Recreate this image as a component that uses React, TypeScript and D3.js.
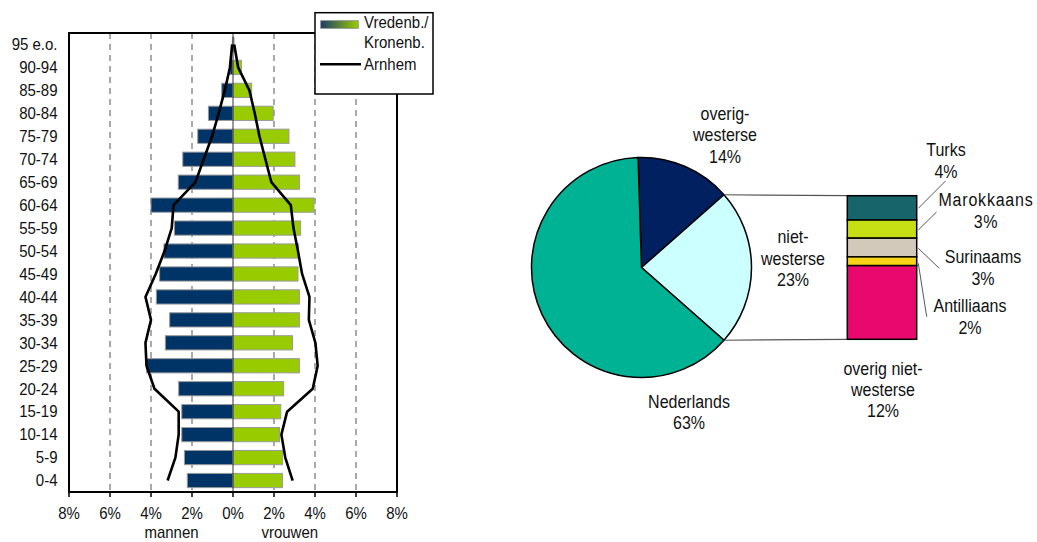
import React from "react";
import * as d3 from "d3";

// ---------- Pyramid data ----------
const ageGroups = ["0-4","5-9","10-14","15-19","20-24","25-29","30-34","35-39","40-44","45-49","50-54","55-59","60-64","65-69","70-74","75-79","80-84","85-89","90-94","95 e.o."];
const menVredenburg = [2.23,2.37,2.5,2.5,2.65,4.21,3.3,3.09,3.74,3.58,3.37,2.86,4.0,2.67,2.45,1.72,1.2,0.55,0.15,0.03];
const womenVredenburg = [2.41,2.41,2.27,2.33,2.47,3.24,2.9,3.24,3.24,3.17,3.2,3.3,3.95,3.24,3.02,2.73,1.96,0.91,0.41,0.05];
const menArnhem = [3.19,2.81,2.65,2.65,3.83,4.22,4.27,4.0,4.27,3.77,3.34,2.99,2.9,1.83,1.43,1.02,0.7,0.4,0.15,0.04];
const womenArnhem = [2.91,2.55,2.36,2.64,3.89,4.13,4.02,3.7,3.73,3.37,3.17,2.95,2.82,1.87,1.58,1.29,1.06,0.8,0.25,0.06];
const xTicks = [-8,-6,-4,-2,0,2,4,6,8];

// ---------- Pie data ----------
const pieNames = ["overig-westerse","niet-westerse","Nederlands"];
const pieValues = [14,23,63];
const pieLabels = [["overig-","westerse","14%"],["niet-","westerse","23%"],["Nederlands","63%"]];
const pieColors = ["#002060","#CCFFFF","#00B294"];

const stackNames = ["Turks","Marokkaans","Surinaams","Antilliaans","overig niet-westerse"];
const stackValues = [3.9,2.9,3.0,1.4,11.8];
const stackLabels = [["Turks","4%"],["Marokkaans","3%"],["Surinaams","3%"],["Antilliaans","2%"],["overig niet-","westerse","12%"]];
const stackColors = ["#17646B","#C6DE14","#D3C9BB","#F7D318","#E8086E"];

// ---------- layout ----------
const P = { left: 69, right: 397, top: 33, bottom: 492 };
const pie = { cx: 641.5, cy: 267.5, r: 110 };
const stackBox = { x0: 847.3, x1: 916.7, y0: 195.7, y1: 339.3 };
const pieLabelPos = [
  { x: 725, y: 119.5 },
  { x: 793, y: 242.7 },
  { x: 689, y: 407.5 },
];
const stackLabelPos = [
  { x: 946, y: 156, ls: 0 },
  { x: 986, y: 206, ls: 0.8 },
  { x: 983, y: 262.7, ls: 0 },
  { x: 970, y: 311.7, ls: 0 },
  { x: 883, y: 374.5, ls: 0 },
];
const leaders = [
  [[918.3, 208.3], [945.5, 181]],
  [[918.3, 230], [936.5, 212]],
  [[918.3, 248.3], [939.3, 268.3]],
  [[918.3, 263.3], [926.7, 316.7]],
];
const LH = 21.8;
const FONT = "'Liberation Sans', Arial, sans-serif";
const STRETCH = 1.13;

function T({ x, y, size, anchor = "start", ls = 0, children }: { x: number; y: number; size: number; anchor?: string; ls?: number; children: React.ReactNode }) {
  return (
    <text
      transform={`translate(${x},${y}) scale(1,${STRETCH})`}
      fontSize={size}
      textAnchor={anchor as any}
      letterSpacing={ls}
      fill="#111"
    >
      {children}
    </text>
  );
}

export default function App() {
  const x = d3.scaleLinear().domain([-8, 8]).range([P.left, P.right]);
  const y = d3
    .scaleBand<string>()
    .domain([...ageGroups].reverse())
    .range([P.top, P.bottom])
    .paddingInner(0.38)
    .paddingOuter(0.19);
  const yc = (a: string) => (y(a) as number) + y.bandwidth() / 2;

  const lineGen = d3
    .line<[number, string]>()
    .x((d) => x(d[0]))
    .y((d) => yc(d[1]));
  const menLine = lineGen(menArnhem.map((v, i) => [-v, ageGroups[i]] as [number, string]));
  const womenLine = lineGen(womenArnhem.map((v, i) => [v, ageGroups[i]] as [number, string]));

  // pie
  const total = d3.sum(pieValues);
  const start = Math.PI / 2 - ((pieValues[0] + pieValues[1] / 2) / total) * 2 * Math.PI;
  const arcs = d3
    .pie<number>()
    .sort(null)
    .startAngle(start)
    .endAngle(start + 2 * Math.PI)(pieValues);
  const arcGen = d3.arc<d3.PieArcDatum<number>>().innerRadius(0).outerRadius(pie.r);
  const nw = arcs[1];
  const pt = (a: number) => [pie.cx + pie.r * Math.sin(a), pie.cy - pie.r * Math.cos(a)];
  const pTop = pt(nw.startAngle);
  const pBot = pt(nw.endAngle);

  const sy = d3.scaleLinear().domain([0, d3.sum(stackValues)]).range([stackBox.y0, stackBox.y1]);
  const cum = stackValues.map((_, i) => d3.sum(stackValues.slice(0, i)));

  return (
    <svg
      width={1037}
      height={542}
      style={{ position: "absolute", left: 0, top: 0, background: "#fff" }}
      fontFamily={FONT}
    >
      <defs>
        <linearGradient id="lg" x1="0" x2="1" y1="0" y2="0">
          <stop offset="0" stopColor="#1B3A6B" />
          <stop offset="1" stopColor="#9ACD00" />
        </linearGradient>
      </defs>

      {/* gridlines */}
      {xTicks
        .filter((t) => t !== 0 && Math.abs(t) !== 8)
        .map((t) => (
          <line key={"g" + t} x1={x(t)} x2={x(t)} y1={P.top} y2={P.bottom} stroke="#555" strokeWidth={1} strokeDasharray="6,5" />
        ))}

      {/* bars */}
      {ageGroups.map((a, i) => (
        <g key={a}>
          <rect x={x(-menVredenburg[i])} y={y(a)} width={x(0) - x(-menVredenburg[i])} height={y.bandwidth()} fill="#003366" stroke="#9a9a9a" strokeWidth={1} />
          <rect x={x(0)} y={y(a)} width={x(womenVredenburg[i]) - x(0)} height={y.bandwidth()} fill="#99CC00" stroke="#9a9a9a" strokeWidth={1} />
        </g>
      ))}
      <line x1={x(0)} x2={x(0)} y1={P.top} y2={P.bottom} stroke="#333" strokeWidth={1} />

      {/* Arnhem lines */}
      <path d={menLine || ""} fill="none" stroke="#000" strokeWidth={2.6} strokeLinejoin="round" />
      <path d={womenLine || ""} fill="none" stroke="#000" strokeWidth={2.6} strokeLinejoin="round" />

      {/* frame */}
      <rect x={P.left} y={P.top} width={P.right - P.left} height={P.bottom - P.top} fill="none" stroke="#000" strokeWidth={2} />
      {xTicks.map((t) => (
        <g key={"t" + t}>
          <line x1={x(t)} x2={x(t)} y1={P.bottom} y2={P.bottom + 5} stroke="#000" strokeWidth={1.5} />
          <T x={x(t)} y={519} size={15} anchor="middle">
            {Math.abs(t) + "%"}
          </T>
        </g>
      ))}
      {ageGroups.map((a) => (
        <T key={"yl" + a} x={57.5} y={yc(a) + 5.8} size={15} anchor="end">
          {a}
        </T>
      ))}
      <T x={x(-3)} y={537.5} size={15} anchor="middle">mannen</T>
      <T x={x(2.77)} y={537.5} size={15} anchor="middle">vrouwen</T>

      {/* legend */}
      <rect x={315} y={12.7} width={118} height={81.3} fill="#fff" stroke="#000" strokeWidth={1.5} />
      <rect x={320.7} y={20.7} width={37.6} height={7.6} fill="url(#lg)" stroke="#888" strokeWidth={0.8} />
      <T x={364} y={28} size={15}>Vredenb./</T>
      <T x={364} y={48} size={15}>Kronenb.</T>
      <line x1={320} x2={361} y1={64.3} y2={64.3} stroke="#000" strokeWidth={2.6} />
      <T x={364} y={69.5} size={15}>Arnhem</T>

      {/* pie */}
      <g transform={`translate(${pie.cx},${pie.cy})`}>
        {arcs.map((a, i) => (
          <path key={pieNames[i]} d={arcGen(a) || ""} fill={pieColors[i]} stroke="#000" strokeWidth={1.5} strokeLinejoin="round" />
        ))}
      </g>
      <line x1={pTop[0]} y1={pTop[1]} x2={stackBox.x0} y2={sy(0)} stroke="#555" strokeWidth={1.2} />
      <line x1={pBot[0]} y1={pBot[1]} x2={stackBox.x0} y2={sy(d3.sum(stackValues))} stroke="#555" strokeWidth={1.2} />

      {/* stack */}
      {stackValues.map((v, i) => (
        <rect key={stackNames[i]} x={stackBox.x0} y={sy(cum[i])} width={stackBox.x1 - stackBox.x0} height={sy(cum[i] + v) - sy(cum[i])} fill={stackColors[i]} stroke="#000" strokeWidth={1.5} />
      ))}
      {leaders.map((l, i) => (
        <line key={"ld" + i} x1={l[0][0]} y1={l[0][1]} x2={l[1][0]} y2={l[1][1]} stroke="#444" strokeWidth={0.9} />
      ))}

      {/* pie labels */}
      {pieLabels.map((lines, i) =>
        lines.map((s, j) => (
          <T key={"pl" + i + j} x={pieLabelPos[i].x} y={pieLabelPos[i].y + j * LH} size={16} anchor="middle">
            {s}
          </T>
        ))
      )}
      {stackLabels.map((lines, i) =>
        lines.map((s, j) => (
          <T key={"sl" + i + j} x={stackLabelPos[i].x} y={stackLabelPos[i].y + j * (i === 4 ? 21.2 : 22.3)} size={16} anchor="middle" ls={stackLabelPos[i].ls}>
            {s}
          </T>
        ))
      )}
    </svg>
  );
}
